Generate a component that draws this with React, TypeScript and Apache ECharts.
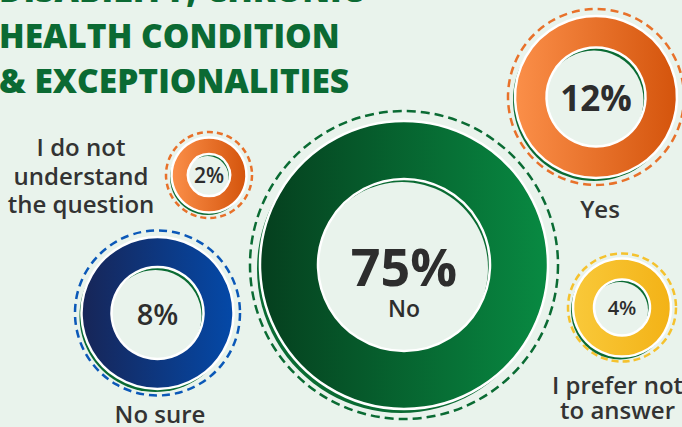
import React, { useEffect, useRef } from "react";
import * as echarts from "echarts";

// ---- data ----
const titleLines = ["DISABILITY, CHRONIC", "HEALTH CONDITION", "& EXCEPTIONALITIES"];
const categories = ["No", "Yes", "I do not understand the question", "No sure", "I prefer not to answer"];
const values = [75, 12, 2, 8, 4];
const labelLines = [["No"], ["Yes"], ["I do not", "understand", "the question"], ["No sure"], ["I prefer not", "to answer"]];

// ---- layout / styles ----
const BG = "#e9f3ec";
const SHADOW = "#0a6b33";
const TEXT = "#2d2d2d";
const layout = [
  { cx: 404, cy: 265, R: 144, r: 86, dashR: 154, dash: [9, 5], dashColor: "#0a6b33", grad: ["#053f1e", "#088a42"], pct: 52, pw: 700, lab: { x: 404, ys: [] as number[] }, sh: [-3, 4], hs: [-2, 3] },
  { cx: 596, cy: 97, R: 81, r: 49.5, dashR: 88, dash: [8, 5], dashColor: "#e8712a", grad: ["#fb8f49", "#d4540c"], pct: 35, pw: 700, lab: { x: 600, ys: [208] }, sh: [-2, 3], hs: [-2, 3] },
  { cx: 209, cy: 175, R: 37.5, r: 21, dashR: 43, dash: [6, 4], dashColor: "#e8712a", grad: ["#fb8f49", "#d4540c"], pct: 21, pw: 600, lab: { x: 81, ys: [146.7, 175, 203.3] }, sh: [-1.5, 2.5], hs: [-1.5, 2] },
  { cx: 157.5, cy: 313, R: 76, r: 46, dashR: 82.5, dash: [8, 5], dashColor: "#0b58b8", grad: ["#172557", "#0449a8"], pct: 29, pw: 600, lab: { x: 160, ys: [413] }, sh: [-2, 3], hs: [-2, 3] },
  { cx: 622, cy: 307.5, R: 49, r: 28, dashR: 54, dash: [7, 4], dashColor: "#f5c22e", grad: ["#f9c93a", "#f3b216"], pct: 20, pw: 600, lab: { x: 617.5, ys: [384.5, 409] }, sh: [-2, 3], hs: [-2, 2.5] },
];

export default function App() {
  const ref = useRef<HTMLDivElement>(null);
  useEffect(() => {
    if (!ref.current) return;
    const chart = echarts.init(ref.current, null, { renderer: "svg" });
    const graphics: any[] = [];
    const series: any[] = [];
    layout.forEach((b, i) => {
      graphics.push({
        type: "circle", z: 1, silent: true,
        shape: { cx: b.cx, cy: b.cy, r: b.dashR },
        style: { fill: "none", stroke: b.dashColor, lineWidth: 2.5, lineDash: b.dash },
      });
      graphics.push({
        type: "circle", z: 1, silent: true,
        shape: { cx: b.cx + b.sh[0], cy: b.cy + b.sh[1], r: b.R },
        style: { fill: SHADOW },
      });
      graphics.push({
        type: "circle", z: 1, silent: true,
        shape: { cx: b.cx + b.hs[0], cy: b.cy + b.hs[1], r: b.r },
        style: { fill: BG },
      });
      b.lab.ys.forEach((y, k) => {
        graphics.push({
          type: "text", z: 10, silent: true,
          style: {
            text: labelLines[i][k], x: b.lab.x, y,
            fill: "#333333", font: "600 24px 'Open Sans'",
            textAlign: "center", textVerticalAlign: "middle", align: "center", verticalAlign: "middle",
          },
        });
      });
      const isBig = i === 0;
      series.push({
        type: "pie",
        name: categories[i],
        center: [b.cx, b.cy],
        radius: [b.r, b.R],
        startAngle: 90,
        silent: true,
        z: 2,
        emphasis: { disabled: true },
        labelLine: { show: false },
        label: {
          show: true,
          position: "center",
          formatter: isBig ? "{v|{c}%}\n{n|{b}}" : "{v|{c}%}",
          padding: isBig ? [30, 0, 0, 0] : 0,
          rich: {
            v: { fontFamily: "Open Sans", fontWeight: b.pw, fontSize: b.pct, color: TEXT, lineHeight: isBig ? 56 : b.pct },
            n: { fontFamily: "Open Sans", fontWeight: 600, fontSize: 23, color: TEXT, lineHeight: 30 },
          },
        },
        itemStyle: {
          borderColor: "#ffffff",
          borderWidth: 2.5,
          color: {
            type: "linear", x: 0, y: 0, x2: 1, y2: 0,
            colorStops: [{ offset: 0, color: b.grad[0] }, { offset: 1, color: b.grad[1] }],
          },
        },
        data: [{ name: categories[i], value: values[i] }],
      });
    });
    const titleYs = [-10.9, 34.7, 80.3];
    titleLines.forEach((t, k) => {
      graphics.push({
        type: "text", z: 10, silent: true,
        style: {
          text: t, x: -1, y: titleYs[k], fill: "#0b6a33", font: "800 33.5px 'Open Sans'",
          textAlign: "left", textVerticalAlign: "middle", align: "left", verticalAlign: "middle",
        },
      });
    });
    chart.setOption({
      animation: false,
      backgroundColor: BG,
      graphic: { elements: graphics },
      series,
    });
    return () => chart.dispose();
  }, []);
  return (
    <div
      ref={ref}
      style={{ position: "fixed", left: 0, top: 0, width: 682, height: 427 }}
    />
  );
}
